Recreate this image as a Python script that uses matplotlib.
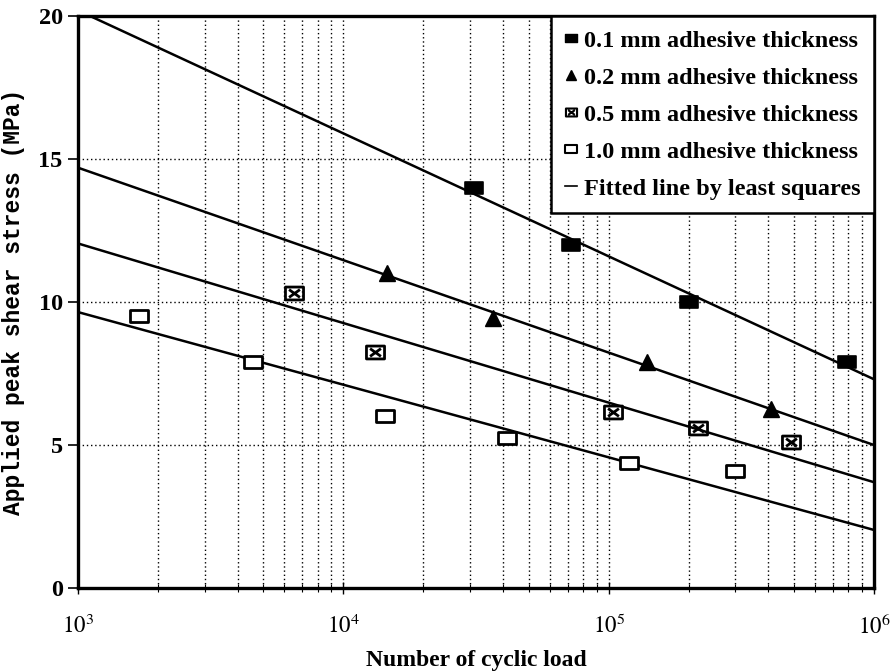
import numpy as np
import matplotlib
matplotlib.use("Agg")
import matplotlib.pyplot as plt
from matplotlib.path import Path
from matplotlib.ticker import LogLocator, NullFormatter, FixedLocator

# ---------------- data ----------------
labels = ["0.1 mm adhesive thickness", "0.2 mm adhesive thickness",
          "0.5 mm adhesive thickness", "1.0 mm adhesive thickness"]
fit_label = "Fitted line by least squares"

n_01 = [3.1e4, 7.2e4, 2.0e5, 7.9e5]
s_01 = [14.0, 12.0, 10.0, 7.9]

n_02 = [1.46e4, 3.65e4, 1.4e5, 4.1e5]
s_02 = [11.0, 9.45, 7.9, 6.25]

n_05 = [6.5e3, 1.32e4, 1.04e5, 2.17e5, 4.85e5]
s_05 = [10.3, 8.25, 6.15, 5.6, 5.1]

n_10 = [1.7e3, 4.55e3, 1.44e4, 4.15e4, 1.19e5, 3.0e5]
s_10 = [9.5, 7.92, 6.02, 5.25, 4.38, 4.08]

fit_n = [1e3, 1e6]
fit_01 = [20.2, 7.3]
fit_02 = [14.7, 5.0]
fit_05 = [12.05, 3.7]
fit_10 = [9.65, 2.03]

xtick_vals = [1e3, 1e4, 1e5, 1e6]
xtick_labels = ["$10^{3}$", "$10^{4}$", "$10^{5}$", "$10^{6}$"]
ytick_vals = [0, 5, 10, 15, 20]

# ---------------- markers ----------------
w, h = 0.7, 0.5
rect = Path([(-w, -h), (w, -h), (w, h), (-w, h), (-w, -h)],
            [Path.MOVETO, Path.LINETO, Path.LINETO, Path.LINETO, Path.CLOSEPOLY])
cross_rect = Path([(-w, -h), (w, -h), (w, h), (-w, h), (-w, -h),
                   (-w * 0.6, -h * 0.6), (w * 0.6, h * 0.6),
                   (-w * 0.6, h * 0.6), (w * 0.6, -h * 0.6)],
                  [Path.MOVETO, Path.LINETO, Path.LINETO, Path.LINETO, Path.CLOSEPOLY,
                   Path.MOVETO, Path.LINETO, Path.MOVETO, Path.LINETO])

plt.rcParams["mathtext.fontset"] = "stix"
serif = "Liberation Serif"

fig = plt.figure(figsize=(8.9, 6.72), dpi=100)
ax = fig.add_axes([0.0876, 0.125, 0.8944, 0.851])

ax.set_xscale("log")
ax.set_xlim(1e3, 1e6)
ax.set_ylim(0, 20)

# grid
ax.xaxis.set_major_locator(FixedLocator(xtick_vals))
ax.xaxis.set_minor_locator(LogLocator(base=10, subs=np.arange(2, 10), numticks=20))
ax.xaxis.set_minor_formatter(NullFormatter())
ax.set_xticks(xtick_vals)
ax.set_xticklabels(xtick_labels)
ax.set_yticks(ytick_vals)
ax.set_yticklabels([str(v) for v in ytick_vals])
ax.grid(True, which="both", axis="x", color="black", linestyle=(0, (1, 2)), linewidth=1.0)
ax.grid(True, which="major", axis="y", color="black", linestyle=(0, (1, 2)), linewidth=1.0)
ax.set_axisbelow(True)

lw_fit = 1.8
ax.plot(fit_n, fit_01, color="black", lw=lw_fit)
ax.plot(fit_n, fit_02, color="black", lw=lw_fit)
ax.plot(fit_n, fit_05, color="black", lw=lw_fit)
ax.plot(fit_n, fit_10, color="black", lw=lw_fit)

ms = 13
h1, = ax.plot(n_01, s_01, linestyle="none", marker=rect, ms=ms, mfc="black", mec="black", mew=1.2)
h2, = ax.plot(n_02, s_02, linestyle="none", marker="^", ms=11, mfc="black", mec="black")
h3, = ax.plot(n_05, s_05, linestyle="none", marker=cross_rect, ms=ms, mfc="none", mec="black", mew=2.0)
h4, = ax.plot(n_10, s_10, linestyle="none", marker=rect, ms=ms, mfc="white", mec="black", mew=2.0)
h5, = ax.plot([], [], color="black", lw=1.2)

# spines
for side in ["left", "bottom", "top", "right"]:
    ax.spines[side].set_linewidth(2.4)
    ax.spines[side].set_color("black")

ax.tick_params(axis="y", which="major", direction="out", length=7, width=1.2, pad=4,
               labelsize=17.5)
ax.tick_params(axis="x", which="major", direction="inout", length=8, width=1.0, pad=15,
               labelsize=16.5)
ax.tick_params(axis="x", which="minor", direction="inout", length=6, width=0.8)
for t in ax.get_yticklabels():
    t.set_fontfamily(serif)
    t.set_fontweight("bold")

ax.set_xlabel("Number of cyclic load", fontsize=17, fontfamily=serif, fontweight="bold",
              labelpad=8)
ax.set_ylabel("Applied peak shear stress (MPa)", fontsize=16.5, fontfamily="Liberation Mono",
              fontweight="bold")
ax.yaxis.set_label_coords(-0.066, 0.5)

leg_handles = [
    ax.plot([], [], linestyle="none", marker=rect, ms=8, mfc="black", mec="black")[0],
    ax.plot([], [], linestyle="none", marker="^", ms=7, mfc="black", mec="black")[0],
    ax.plot([], [], linestyle="none", marker=cross_rect, ms=8, mfc="none", mec="black", mew=1.5)[0],
    ax.plot([], [], linestyle="none", marker=rect, ms=8, mfc="white", mec="black", mew=1.5)[0],
    h5,
]
leg = ax.legend(leg_handles, labels + [fit_label], loc="upper right", bbox_to_anchor=(1.0, 1.0),
                borderaxespad=0.0, frameon=True, fancybox=False, edgecolor="black",
                handlelength=0.5, handletextpad=0.3, labelspacing=0.62, borderpad=0.55,
                prop={"family": serif, "weight": "bold", "size": 17.5})
leg.get_frame().set_linewidth(1.8)
leg.get_frame().set_alpha(1.0)
leg.set_zorder(5)

fig.savefig("out.png", dpi=100)
